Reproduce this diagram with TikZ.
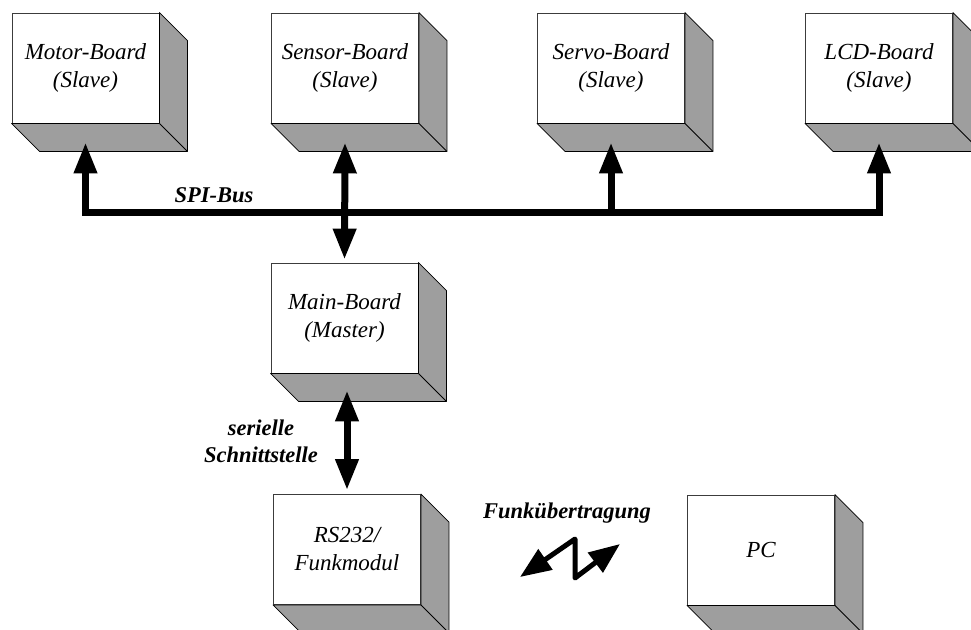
\documentclass[tikz,border=0pt]{standalone}
\usepackage{fontspec}
\setmainfont{Liberation Serif}
\usetikzlibrary{arrows.meta}
\definecolor{sidegray}{RGB}{158,158,158}
\definecolor{edgegray}{RGB}{60,60,60}

% a board drawn as a box: white front face plus shaded side and bottom faces
\newcommand\drawboard[4]{%
  \node[board] (#1) at (#2,#3) {#4};
  \filldraw[face] (#1.north east) -- ([shift={(28pt,-28pt)}]#1.north east)
    -- ([shift={(28pt,-28pt)}]#1.south east) -- ([shift={(28pt,-28pt)}]#1.south west)
    -- (#1.south west) -- (#1.south east) -- cycle;
  \draw[face] (#1.south east) -- ([shift={(28pt,-28pt)}]#1.south east);
}

\begin{document}
\begin{tikzpicture}[x=1pt,y=-1pt,
  board/.style={draw=edgegray, line width=0.9pt, fill=white,
    minimum width=147pt, minimum height=110pt, inner sep=0pt, align=center,
    font=\fontsize{23}{28}\selectfont\itshape},
  face/.style={fill=sidegray, draw=black, line width=0.8pt, line join=round},
  bus/.style={line width=7pt, line join=miter},
  head/.tip={Triangle[length=31pt,width=22pt]},
  smallhead/.tip={Triangle[length=31pt,width=24pt]},
  tipend/.style={-head},
  tipboth/.style={head-head},
  caption/.style={font=\fontsize{22.5}{27}\selectfont\bfseries\itshape, align=center}]

\useasboundingbox (0,0) rectangle (971,629);
\clip (0,0) rectangle (971,629);

% slave boards
\drawboard{motor}{85.5}{68}{Motor-Board\\(Slave)}
\drawboard{sensor}{345}{68}{Sensor-Board\\(Slave)}
\drawboard{servo}{611}{68}{Servo-Board\\(Slave)}
\drawboard{lcd}{879}{68}{LCD-Board\\(Slave)}

% master, radio module and PC
\drawboard{main}{344.5}{318}{Main-Board\\(Master)}
\drawboard{rs}{347}{549.5}{RS232/\\Funkmodul}
\drawboard{pc}{761}{550}{PC}

% SPI bus
\coordinate (b1) at (85.5,212);
\coordinate (b3) at (611,212);
\coordinate (b4) at (879,212);
\draw[bus,tipboth] ([yshift=-19pt]motor.south) -- (b1) -- (b4) -- ([yshift=-19pt]lcd.south);
\draw[bus,tipend] (b3) -- ([yshift=-19pt]servo.south);
\draw[bus,tipboth] ([yshift=-19pt]sensor.south) -- ([yshift=3pt]main.north);
\node[caption] (spi) at (214,195) {SPI-Bus};

% serial link
\draw[bus,tipboth] ([yshift=-17pt]main.south -| rs.north) -- ([yshift=4pt]rs.north);
\node[caption] (ser) at (261,441) {serielle\\Schnittstelle};

% radio link
\node[caption] (funk) at (567,513) {Funkübertragung};
\coordinate (r1) at (520,577);
\coordinate (r2) at (575,539);
\coordinate (r3) at (575,578);
\coordinate (r4) at (620,544);
\draw[line width=5pt, line join=round, smallhead-smallhead] (r1) -- (r2) -- (r3) -- (r4);
\end{tikzpicture}
\end{document}
